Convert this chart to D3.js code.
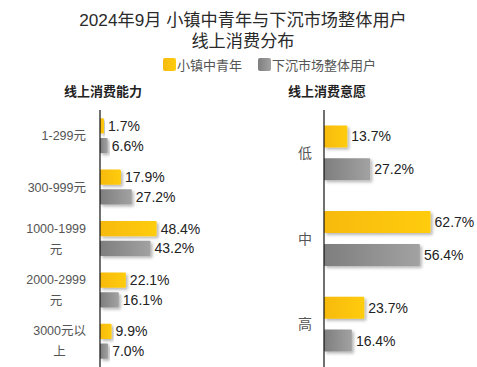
<!DOCTYPE html>
<html>
<head>
<meta charset="utf-8">
<script src="https://cdn.jsdelivr.net/npm/d3@7/dist/d3.min.js"></script>
<style>
  html, body { margin: 0; padding: 0; background: #fff; }
  svg { display: block; }
</style>
</head>
<body>
<svg id="chart" width="477" height="367"></svg>
<script>
// ---------- data ----------
const titleLines = ["2024年9月 小镇中青年与下沉市场整体用户", "线上消费分布"];
const seriesNames = ["小镇中青年", "下沉市场整体用户"];

const abilityTitle = "线上消费能力";
const abilityCategories = ["1-299元", "300-999元", "1000-1999元", "2000-2999元", "3000元以上"];
const abilityTickLabels = [["1-299元"], ["300-999元"], ["1000-1999", "元"], ["2000-2999", "元"], ["3000元以", "上"]];
const abilityYouth = [1.7, 17.9, 48.4, 22.1, 9.9];
const abilityOverall = [6.6, 27.2, 43.2, 16.1, 7.0];

const willTitle = "线上消费意愿";
const willCategories = ["低", "中", "高"];
const willTickLabels = [["低"], ["中"], ["高"]];
const willYouth = [13.7, 62.7, 23.7];
const willOverall = [27.2, 56.4, 16.4];

// ---------- setup ----------
const svg = d3.select("#chart");
const FONT = "'Liberation Sans', 'Noto Sans CJK SC', sans-serif";
const CJK = "'Noto Sans CJK SC', 'Liberation Sans', sans-serif";

const defs = svg.append("defs");
const gy = defs.append("linearGradient").attr("id", "gYellow").attr("x1", "0%").attr("x2", "100%");
gy.append("stop").attr("offset", "0%").attr("stop-color", "#F7BA0B");
gy.append("stop").attr("offset", "100%").attr("stop-color", "#FFCC0F");
const gg = defs.append("linearGradient").attr("id", "gGray").attr("x1", "0%").attr("x2", "100%");
gg.append("stop").attr("offset", "0%").attr("stop-color", "#7E7E7E");
gg.append("stop").attr("offset", "100%").attr("stop-color", "#A2A2A2");
const sh = defs.append("filter").attr("id", "shadow").attr("x", "-10%").attr("y", "-30%").attr("width", "130%").attr("height", "180%");
sh.append("feDropShadow").attr("dx", 2).attr("dy", 2).attr("stdDeviation", 1.5)
  .attr("flood-color", "#000").attr("flood-opacity", 0.28);

const fills = ["url(#gYellow)", "url(#gGray)"];

// ---------- title ----------
titleLines.forEach((l, k) => {
  svg.append("text")
    .attr("x", 243).attr("y", 26 + k * 21)
    .attr("text-anchor", "middle")
    .attr("font-family", FONT).attr("font-size", 17.2)
    .attr("fill", "#2a2a2a")
    .text(l);
});

// ---------- legend ----------
const legendItems = [
  { name: seriesNames[0], x: 163, fill: fills[0] },
  { name: seriesNames[1], x: 258, fill: fills[1] }
];
const lg = svg.append("g");
legendItems.forEach(d => {
  lg.append("rect").attr("x", d.x).attr("y", 58).attr("width", 13).attr("height", 13)
    .attr("rx", 2).attr("fill", d.fill);
  lg.append("text").attr("x", d.x + 14).attr("y", 69.5)
    .attr("font-family", CJK).attr("font-size", 13).attr("fill", "#555")
    .text(d.name);
});

// ---------- panel drawing ----------
function drawPanel(opt) {
  const g = svg.append("g");
  const y = d3.scaleBand().domain(opt.categories).range([110, 367])
    .paddingInner(opt.padInner).paddingOuter(opt.padInner / 2);
  const ys = d3.scaleBand().domain([0, 1]).range([0, y.bandwidth()]).paddingInner(opt.subPad);
  const x = d3.scaleLinear().domain([0, 100]).range([opt.x0, opt.x0 + opt.pxPer100]);

  // subtitle
  g.append("text")
    .attr("x", opt.titleX).attr("y", 96)
    .attr("font-family", CJK).attr("font-weight", "bold").attr("font-size", 13)
    .attr("fill", "#222")
    .text(opt.title);

  const rows = opt.categories.map((c, i) => ({ c, i, vals: [opt.youth[i], opt.overall[i]] }));
  const grp = g.selectAll("g.row").data(rows).join("g").attr("class", "row");

  grp.each(function (r) {
    const gr = d3.select(this);
    r.vals.forEach((v, s) => {
      const top = y(r.c) + ys(s);
      const w = Math.max(x(v) - x(0), opt.minW);
      gr.append("rect")
        .attr("x", x(0)).attr("y", top)
        .attr("width", w)
        .attr("height", ys.bandwidth())
        .attr("rx", 1)
        .attr("fill", fills[s])
        .attr("filter", "url(#shadow)");
      gr.append("text")
        .attr("x", x(0) + w + 4)
        .attr("y", top + ys.bandwidth() / 2)
        .attr("dy", "0.36em")
        .attr("font-family", FONT).attr("font-size", 14)
        .attr("fill", "#222")
        .text(d3.format(".1f")(v) + "%");
    });
  });

  // category axis line
  g.append("line")
    .attr("x1", x(0)).attr("x2", x(0))
    .attr("y1", 110).attr("y2", 367)
    .attr("stroke", "#111").attr("stroke-width", 1.2);

  // category tick labels (centered lines, block right-aligned)
  opt.categories.forEach((c, i) => {
    const lines = opt.tickLabels[i];
    const cy = y(c) + y.bandwidth() / 2;
    const t = g.append("text")
      .attr("font-family", FONT).attr("font-size", opt.labelSize)
      .attr("fill", "#555").attr("text-anchor", "middle");
    const spans = lines.map(l => t.append("tspan").text(l));
    let maxW = 0;
    spans.forEach(s => { maxW = Math.max(maxW, s.node().getComputedTextLength()); });
    const cx = opt.labelRight - maxW / 2;
    const n = lines.length;
    spans.forEach((s, k) => {
      s.attr("x", cx).attr("y", cy + (k - (n - 1) / 2) * opt.lineH).attr("dy", "0.36em");
    });
  });
}

drawPanel({
  title: abilityTitle, titleX: 64,
  categories: abilityCategories, tickLabels: abilityTickLabels,
  youth: abilityYouth, overall: abilityOverall,
  x0: 100, pxPer100: 117, minW: 4,
  padInner: 0.32, subPad: 0.23,
  labelRight: 86, labelSize: 12.5, lineH: 21
});

drawPanel({
  title: willTitle, titleX: 288,
  categories: willCategories, tickLabels: willTickLabels,
  youth: willYouth, overall: willOverall,
  x0: 324, pxPer100: 170, minW: 4,
  padInner: 0.36, subPad: 0.33,
  labelRight: 312, labelSize: 14, lineH: 20
});
</script>
</body>
</html>
